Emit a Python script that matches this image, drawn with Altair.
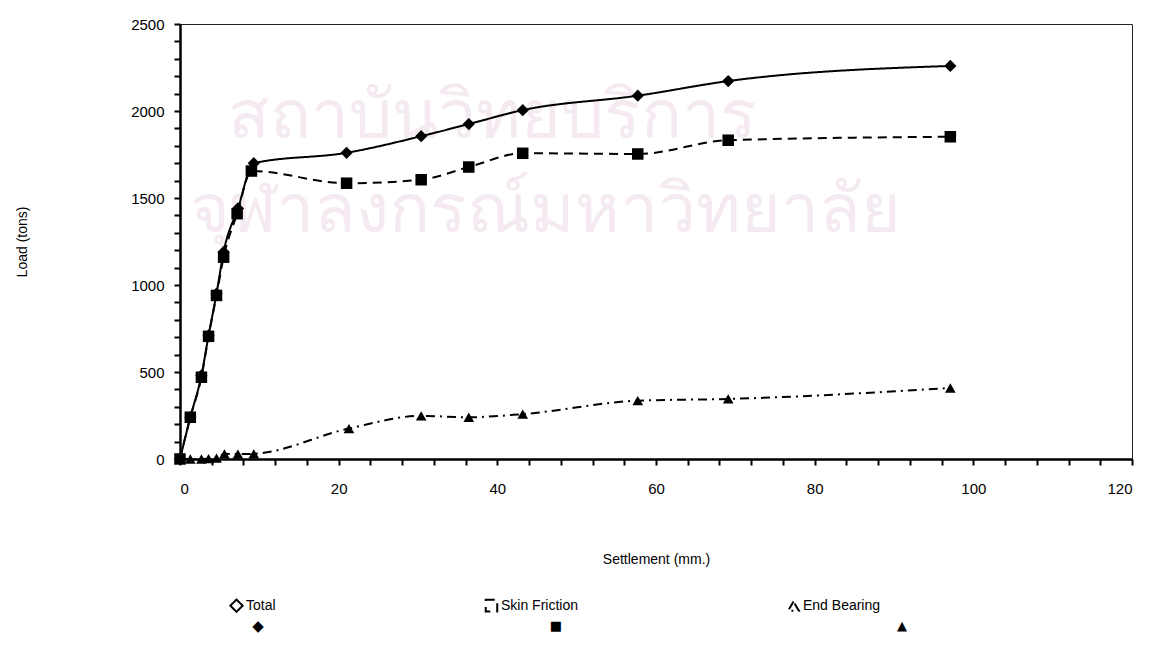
import altair as alt
import pandas as pd

series_names = ["Total", "Skin Friction", "End Bearing"]

total_x = [0, 1.3, 2.7, 3.6, 4.6, 5.5, 7.3, 9.3, 21.0, 30.4, 36.4, 43.2, 57.7, 69.1, 97.1]
total_y = [0, 240, 480, 710, 950, 1190, 1440, 1700, 1760, 1855, 1925, 2005, 2088, 2172, 2259]

skin_x = [0, 1.3, 2.7, 3.6, 4.6, 5.5, 7.2, 9.0, 21.0, 30.4, 36.4, 43.2, 57.7, 69.1, 97.1]
skin_y = [0, 240, 470, 705, 940, 1160, 1410, 1655, 1585, 1605, 1678, 1757, 1753, 1832, 1852]

end_x = [0, 1.3, 2.7, 3.6, 4.6, 5.6, 7.3, 9.3, 21.3, 30.4, 36.4, 43.2, 57.7, 69.1, 97.1]
end_y = [0, 0, 0, 2, 5, 30, 28, 30, 175, 248, 240, 258, 335, 345, 408]

x_tick_values = list(range(0, 121, 4))
y_tick_values = list(range(0, 2501, 100))

watermark_lines = ["สถาบันวิทยบริการ", "จุฬาลงกรณ์มหาวิทยาลัย"]

rows = []
for name, xs, ys in zip(series_names, [total_x, skin_x, end_x], [total_y, skin_y, end_y]):
    for i, (xv, yv) in enumerate(zip(xs, ys)):
        rows.append({"series": name, "settlement": xv, "load": yv, "order": i})
df = pd.DataFrame(rows)

FONT = "Liberation Sans"
SHAPES = ["diamond", "square", "triangle-up"]
GLYPHS = ["\u25C6", "\u25A0", "\u25B2"]
SIZES = [150, 115, 125]
DASHES = [[1, 0], [9, 6], [9, 5, 2, 5]]

x_scale = alt.Scale(domain=[0, 120], nice=False, zero=True)
y_scale = alt.Scale(domain=[0, 2500], nice=False, zero=True)

x_axis = alt.Axis(values=x_tick_values,
                  labelExpr="datum.value % 20 == 0 ? datum.label : ''",
                  labelOverlap=False, grid=False,
                  title="Settlement (mm.)", titlePadding=56,
                  labelPadding=16, tickSize=6)
y_axis = alt.Axis(values=y_tick_values,
                  labelExpr="datum.value % 500 == 0 ? datum.label : ''",
                  labelOverlap=False, grid=False, format="d",
                  title="Load (tons)", titlePadding=101,
                  labelPadding=10, tickSize=6)


def xe():
    return alt.X("settlement:Q", scale=x_scale, axis=x_axis)


def ye():
    return alt.Y("load:Q", scale=y_scale, axis=y_axis)


wm_layers = []
for txt, xpos, ypos in zip(watermark_lines, [312, 365], [94, 188]):
    wm_layers.append(
        alt.Chart(pd.DataFrame({"line": [txt]})).mark_text(
            font="Noto Sans", fontSize=68, color="#f5eaf1", align="center", baseline="middle"
        ).encode(text="line:N", x=alt.value(xpos), y=alt.value(ypos))
    )

LINE_W = 56          # legend line sample length (px)
LINE_BOX = LINE_W + 2
LEG_X = 49
LEG_Y = 603
COL_PAD = 205

lines = alt.Chart(df).mark_line(interpolate="monotone", strokeWidth=2, color="black").encode(
    x=xe(),
    y=ye(),
    detail="series:N",
    order="order:Q",
    strokeDash=alt.StrokeDash(
        "series:N",
        scale=alt.Scale(domain=series_names, range=DASHES),
        legend=alt.Legend(title=None, orient="none", direction="horizontal", columns=3,
                          legendX=LEG_X, legendY=LEG_Y - LINE_BOX / 2,
                          symbolType="stroke", symbolSize=LINE_W * LINE_W,
                          symbolStrokeWidth=2, symbolStrokeColor="black",
                          labelOffset=2, columnPadding=COL_PAD,
                          labelFont=FONT, labelFontSize=14, labelColor="black"),
    ),
)

points = alt.Chart(df).mark_point(filled=True, opacity=1, color="black").encode(
    x=xe(),
    y=ye(),
    shape=alt.Shape("series:N", legend=None,
                    scale=alt.Scale(domain=series_names, range=SHAPES)),
    size=alt.Size("series:N", legend=None,
                  scale=alt.Scale(domain=series_names, range=SIZES)),
)

# marker glyphs drawn on the middle of each legend line sample (legend decoration)
legend_marker_px = [78, 376, 722]
legend_glyph_size = [15, 13, 13]
legend_markers = []
for glyph, fs, px in zip(GLYPHS, legend_glyph_size, legend_marker_px):
    legend_markers.append(
        alt.Chart(pd.DataFrame({"glyph": [glyph]})).mark_text(
            font="DejaVu Sans", fontSize=fs, color="black", align="center", baseline="middle"
        ).encode(text="glyph:N", x=alt.value(px), y=alt.value(LEG_Y - 1))
    )

chart = alt.layer(*wm_layers, lines, points, *legend_markers).properties(
    width=952, height=435,
    autosize=alt.AutoSizeParams(type="none"),
    padding={"left": 172, "top": 16, "right": 12, "bottom": 180},
    background="white",
).configure_view(
    stroke="#222", strokeWidth=1
).configure_axis(
    domainColor="black", domainWidth=2.5, tickColor="black", tickWidth=2,
    labelFont=FONT, labelFontSize=15, labelColor="black",
    titleFont=FONT, titleFontSize=14, titleFontWeight="normal", titleColor="black",
)

chart.save("out.html", embed_options={"renderer": "svg", "actions": False})
